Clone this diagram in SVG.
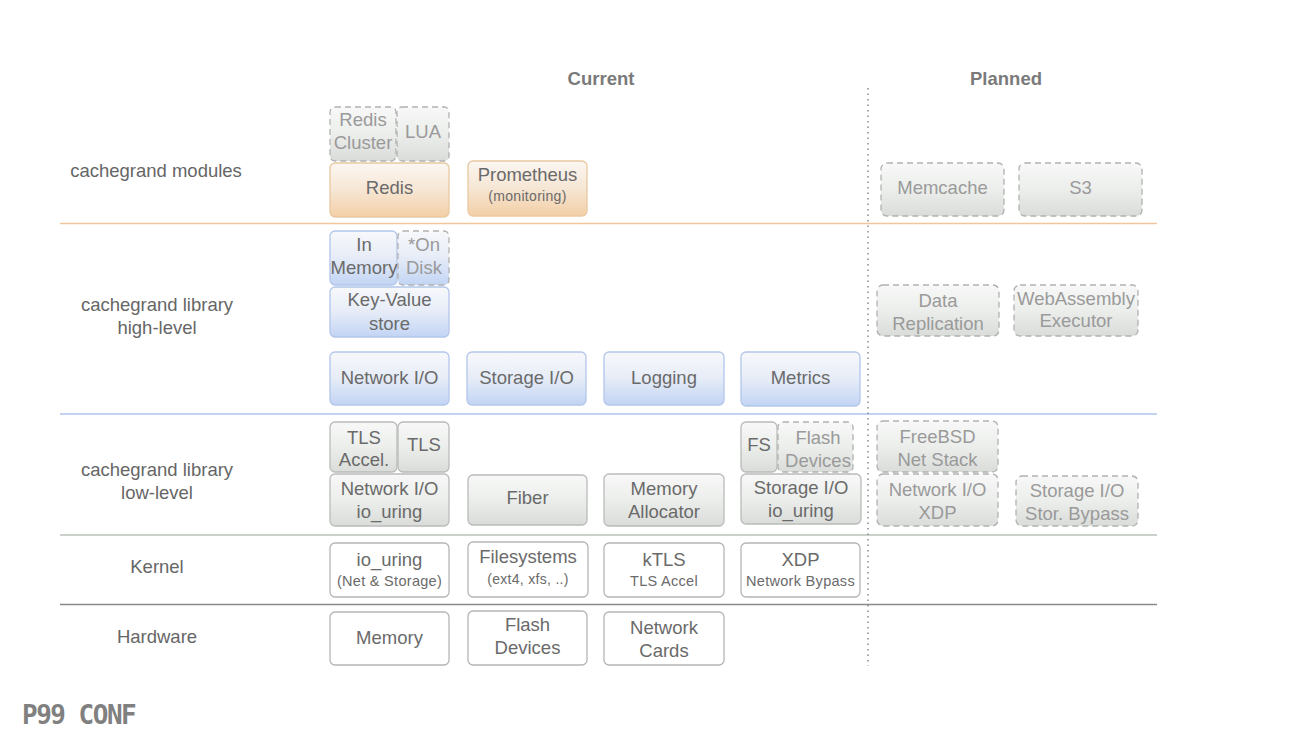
<svg xmlns="http://www.w3.org/2000/svg" width="1294" height="738" viewBox="0 0 1294 738">
<defs>
<linearGradient id="gGray" x1="0" y1="0" x2="0" y2="1">
<stop offset="0" stop-color="#f7f8f7"/><stop offset="0.5" stop-color="#eceeec"/><stop offset="1" stop-color="#d9dcd9"/>
</linearGradient>
<linearGradient id="gOrange" x1="0" y1="0" x2="0" y2="1">
<stop offset="0" stop-color="#fbf7f2"/><stop offset="0.5" stop-color="#f6e6d4"/><stop offset="1" stop-color="#f3cfa6"/>
</linearGradient>
<linearGradient id="gBlue" x1="0" y1="0" x2="0" y2="1">
<stop offset="0" stop-color="#f7f8fb"/><stop offset="0.5" stop-color="#e6ecf7"/><stop offset="1" stop-color="#c2d4f4"/>
</linearGradient>
<style>
text{font-family:"Liberation Sans",Arial,sans-serif;fill:#6a6a6a;text-anchor:middle}
.lbl{font-size:18.5px}
.sm{font-size:14.5px;letter-spacing:0.3px}
.xs{font-size:14px;letter-spacing:0.3px}
.hdr{font-size:18.5px;font-weight:bold;fill:#7a7a7a}
.side{font-size:18.5px;fill:#666}
.pl{fill:#9a9a9a}
.box{stroke:#b9bcb9;stroke-width:1.3}
.gray{fill:url(#gGray)}
.org{fill:url(#gOrange);stroke:#e9c9a2}
.blu{fill:url(#gBlue);stroke:#b3c6ea}
.wht{fill:#ffffff;stroke:#b4b6b4}
.dash{stroke-dasharray:6 4;stroke:#b0b2b0}
</style>
</defs>
<rect width="1294" height="738" fill="#ffffff"/>

<g id="headers">
<text class="hdr" x="601" y="85">Current</text>
<text class="hdr" x="1006" y="85">Planned</text>
</g>

<g id="layer-labels">
<text class="side" x="156" y="177">cachegrand modules</text>
<text class="side" x="157" y="311">cachegrand library</text>
<text class="side" x="157" y="334">high-level</text>
<text class="side" x="157" y="476">cachegrand library</text>
<text class="side" x="157" y="499">low-level</text>
<text class="side" x="157" y="573">Kernel</text>
<text class="side" x="157" y="643">Hardware</text>
</g>

<g id="connectors">
<line x1="60" y1="223.5" x2="1157" y2="223.5" stroke="#f0c69a" stroke-width="1.5"/>
<line x1="60" y1="414" x2="1157" y2="414" stroke="#aec4ec" stroke-width="1.5"/>
<line x1="60" y1="535" x2="1157" y2="535" stroke="#b8c0b8" stroke-width="1.5"/>
<line x1="60" y1="604.5" x2="1157" y2="604.5" stroke="#8a8a8a" stroke-width="1.5"/>
<line x1="868" y1="88" x2="868" y2="666" stroke="#8a8a8a" stroke-width="1.5" stroke-dasharray="1.5 4"/>
</g>

<!-- modules -->
<g id="redis-cluster"><rect class="box gray dash" x="330" y="107" width="66" height="54" rx="5"/><text class="lbl pl" x="363" y="126">Redis</text><text class="lbl pl" x="363" y="149">Cluster</text></g>
<g id="lua"><rect class="box gray dash" x="397" y="107" width="52" height="54" rx="5"/><text class="lbl pl" x="423" y="138">LUA</text></g>
<g id="redis"><rect class="box org" x="330" y="163" width="119" height="54" rx="5"/><text class="lbl" x="389.5" y="194">Redis</text></g>
<g id="prometheus"><rect class="box org" x="468" y="161" width="119" height="55" rx="5"/><text class="lbl" x="527.5" y="181">Prometheus</text><text class="xs" x="527.5" y="201">(monitoring)</text></g>
<g id="memcache"><rect class="box gray dash" x="881" y="163" width="123" height="53" rx="6"/><text class="lbl pl" x="942.5" y="194">Memcache</text></g>
<g id="s3"><rect class="box gray dash" x="1019" y="163" width="123" height="53" rx="6"/><text class="lbl pl" x="1080.5" y="194">S3</text></g>

<!-- high-level -->
<g id="in-memory"><rect class="box blu" x="330" y="231" width="67" height="54" rx="5"/><text class="lbl" x="364" y="251">In</text><text class="lbl" x="364" y="274">Memory</text></g>
<g id="on-disk"><rect class="box blu dash" x="398" y="231" width="51" height="54" rx="5"/><text class="lbl pl" x="424" y="251">*On</text><text class="lbl pl" x="424" y="274">Disk</text></g>
<g id="kv-store"><rect class="box blu" x="330" y="287" width="119" height="50" rx="5"/><text class="lbl" x="389.5" y="306">Key-Value</text><text class="lbl" x="389.5" y="330">store</text></g>
<g id="hl-network-io"><rect class="box blu" x="330" y="352" width="119" height="53" rx="5"/><text class="lbl" x="389.5" y="384">Network I/O</text></g>
<g id="hl-storage-io"><rect class="box blu" x="467" y="352" width="119" height="53" rx="5"/><text class="lbl" x="526.5" y="384">Storage I/O</text></g>
<g id="logging"><rect class="box blu" x="604" y="352" width="120" height="53" rx="5"/><text class="lbl" x="664" y="384">Logging</text></g>
<g id="metrics"><rect class="box blu" x="741" y="352" width="119" height="54" rx="5"/><text class="lbl" x="800.5" y="384">Metrics</text></g>
<g id="data-replication"><rect class="box gray dash" x="877" y="285" width="122" height="51" rx="6"/><text class="lbl pl" x="938" y="307">Data</text><text class="lbl pl" x="938" y="330">Replication</text></g>
<g id="webassembly"><rect class="box gray dash" x="1014" y="285" width="124" height="51" rx="6"/><text class="lbl pl" x="1076" y="305">WebAssembly</text><text class="lbl pl" x="1076" y="327">Executor</text></g>

<!-- low-level -->
<g id="tls-accel"><rect class="box gray" x="330" y="422" width="67" height="50" rx="5"/><text class="lbl" x="364" y="444">TLS</text><text class="lbl" x="364" y="466">Accel.</text></g>
<g id="tls"><rect class="box gray" x="398" y="422" width="51" height="50" rx="5"/><text class="lbl" x="424" y="451">TLS</text></g>
<g id="ll-network-io"><rect class="box gray" x="330" y="474" width="119" height="52" rx="5"/><text class="lbl" x="389.5" y="495">Network I/O</text><text class="lbl" x="389.5" y="518">io_uring</text></g>
<g id="fiber"><rect class="box gray" x="468" y="475" width="119" height="50" rx="5"/><text class="lbl" x="527.5" y="504">Fiber</text></g>
<g id="memory-allocator"><rect class="box gray" x="604" y="474" width="120" height="52" rx="5"/><text class="lbl" x="664" y="495">Memory</text><text class="lbl" x="664" y="518">Allocator</text></g>
<g id="fs"><rect class="box gray" x="741" y="422" width="36" height="50" rx="5"/><text class="lbl" x="759" y="451">FS</text></g>
<g id="flash-devices-ll"><rect class="box gray dash" x="778" y="422" width="75" height="50" rx="5"/><text class="lbl pl" x="818" y="444">Flash</text><text class="lbl pl" x="818" y="467">Devices</text></g>
<g id="ll-storage-io"><rect class="box gray" x="741" y="474" width="120" height="50" rx="5"/><text class="lbl" x="801" y="494">Storage I/O</text><text class="lbl" x="801" y="517">io_uring</text></g>
<g id="freebsd"><rect class="box gray dash" x="877" y="421" width="121" height="51" rx="6"/><text class="lbl pl" x="937.5" y="443">FreeBSD</text><text class="lbl pl" x="937.5" y="466">Net Stack</text></g>
<g id="network-io-xdp"><rect class="box gray dash" x="877" y="474" width="121" height="52" rx="6"/><text class="lbl pl" x="937.5" y="496">Network I/O</text><text class="lbl pl" x="937.5" y="519">XDP</text></g>
<g id="storage-io-bypass"><rect class="box gray dash" x="1016" y="476" width="122" height="50" rx="6"/><text class="lbl pl" x="1077" y="497">Storage I/O</text><text class="lbl pl" x="1077" y="520">Stor. Bypass</text></g>

<!-- kernel -->
<g id="k-io-uring"><rect class="box wht" x="330" y="543" width="119" height="54" rx="5"/><text class="lbl" x="389.5" y="566">io_uring</text><text class="sm" x="389.5" y="586">(Net &amp; Storage)</text></g>
<g id="filesystems"><rect class="box wht" x="468" y="542" width="120" height="55" rx="5"/><text class="lbl" x="528" y="563">Filesystems</text><text class="xs" x="528" y="584">(ext4, xfs, ..)</text></g>
<g id="ktls"><rect class="box wht" x="604" y="543" width="120" height="54" rx="5"/><text class="lbl" x="664" y="566">kTLS</text><text class="sm" x="664" y="586">TLS Accel</text></g>
<g id="xdp"><rect class="box wht" x="741" y="543" width="119" height="54" rx="5"/><text class="lbl" x="800.5" y="566">XDP</text><text class="sm" x="800.5" y="586">Network Bypass</text></g>

<!-- hardware -->
<g id="hw-memory"><rect class="box wht" x="330" y="612" width="119" height="53" rx="5"/><text class="lbl" x="389.5" y="644">Memory</text></g>
<g id="hw-flash"><rect class="box wht" x="468" y="611" width="119" height="54" rx="5"/><text class="lbl" x="527.5" y="631">Flash</text><text class="lbl" x="527.5" y="654">Devices</text></g>
<g id="hw-network-cards"><rect class="box wht" x="604" y="612" width="120" height="53" rx="5"/><text class="lbl" x="664" y="634">Network</text><text class="lbl" x="664" y="657">Cards</text></g>

<g id="footer">
<text x="22" y="724" style="font-family:'DejaVu Sans Mono','Liberation Mono',monospace;font-size:26px;font-weight:bold;fill:#808080;text-anchor:start;letter-spacing:-1.5px">P99 CONF</text>
</g>
</svg>
